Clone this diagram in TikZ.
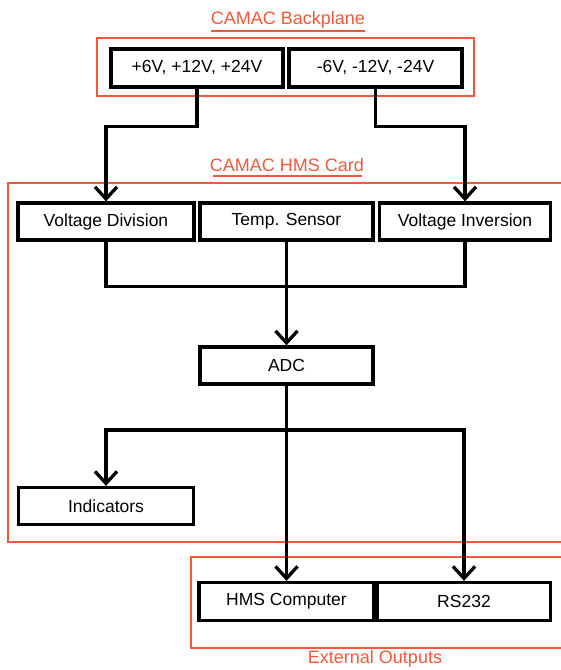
\documentclass[tikz,border=0pt]{standalone}
\usepackage{fontspec}
\setmainfont{Liberation Sans}
\usetikzlibrary{arrows.meta}
\definecolor{frameor}{RGB}{242,88,58}
\tikzset{
  blk/.style={draw=black, line width=3.3pt, rectangle, minimum height=37pt, inner sep=0pt, font=\fontsize{17.5}{20}\selectfont},
  conn/.style={line width=3.3pt, -{Straight Barb[length=12pt,width=22pt]}},
  wire/.style={line width=3.3pt},
  frm/.style={draw=frameor, line width=1.6pt},
  ttl/.style={text=frameor, font=\fontsize{18}{20}\selectfont, inner sep=0pt},
  uline/.style={draw=frameor, line width=2.4pt}
}
\begin{document}
\begin{tikzpicture}[x=1pt,y=-1pt]
\useasboundingbox (0,0) rectangle (561,670);
\clip (0,0) rectangle (561,670);
\fill[white] (0,0) rectangle (561,670);
% frames
\draw[frm] (97,38) rectangle (474,96);
\draw[frm] (8,183) rectangle (575,542);
\draw[frm] (191,557) rectangle (575,648);
% titles
\node[ttl] (t1) at (288,20) {CAMAC Backplane};
\draw[uline] (211,31) -- (365,31);
\node[ttl] (t2) at (287,165) {CAMAC HMS Card};
\draw[uline] (213,176) -- (362,176);
\node[ttl] (t3) at (375,659) {External Outputs};
% boxes
\node[blk, minimum width=172pt, minimum height=38pt] (pos) at (197,68) {+6V, +12V, +24V};
\node[blk, minimum width=173pt, minimum height=38pt] (neg) at (375.5,68) {-6V, -12V, -24V};
\node[blk, minimum width=176pt] (vdiv) at (106,221.5) {Voltage Division};
\node[blk, minimum width=173pt] (temp) at (286.5,221.5) {Temp. Sensor};
\node[blk, minimum width=171pt] (vinv) at (465,221.5) {Voltage Inversion};
\node[blk, minimum width=173pt] (adc) at (286.5,365.5) {ADC};
\node[blk, minimum width=175pt] (ind) at (106,506) {Indicators};
\node[blk, minimum width=175pt, minimum height=38pt] (hms) at (286.5,601.5) {HMS Computer};
\node[blk, minimum width=173pt, minimum height=38pt] (rs) at (464,601.5) {RS232};
% connectors
\draw[conn] (pos.south) -- ++(0,38) -| (vdiv.north);
\draw[conn] (neg.south) -- ++(0,38) -| (vinv.north);
\draw[wire] (vdiv.south) -- ++(0,45) -| (vinv.south);
\draw[conn] (temp.south) -- (adc.north);
\coordinate (br) at (adc.south |- 0,430);
\draw[conn] (adc.south) -- (hms.north);
\draw[conn] (br) -| (ind.north);
\draw[conn] (br) -| (rs.north);
\end{tikzpicture}
\end{document}
